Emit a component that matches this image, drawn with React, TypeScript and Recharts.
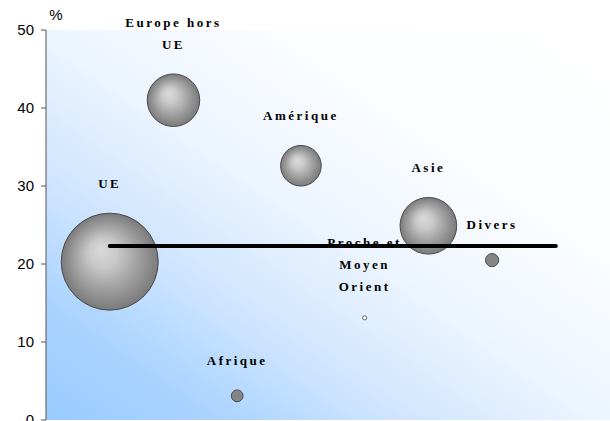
import React from "react";
import { ScatterChart, Scatter, XAxis, YAxis, ZAxis, CartesianGrid } from "recharts";

// zones, position on the x axis (rank), y value (%), bubble weight
const ZONES = ["UE", "Europe hors UE", "Afrique", "Amérique", "Proche et Moyen Orient", "Asie", "Divers"];
const ZONE_LINES = [["UE"], ["Europe hors", "UE"], ["Afrique"], ["Amérique"], ["Proche et", "Moyen", "Orient"], ["Asie"], ["Divers"]];
const RANKS = [1, 2, 3, 4, 5, 6, 7];
const PCT = [20.3, 41.0, 3.1, 32.6, 13.1, 24.9, 20.5];
const WEIGHTS = [54.2, 15.9, 0.8, 9.5, 0.1, 18.5, 1.0];

// average line
const AVG_X = [1, 8];
const AVG_Y = 22.3;

const Y_TICKS = [0, 10, 20, 30, 40, 50];

const bubbleData = ZONES.map((name, i) => ({
  name,
  lines: ZONE_LINES[i],
  x: RANKS[i],
  y: PCT[i],
  z: WEIGHTS[i],
}));

const avgData = AVG_X.map((x) => ({ x, y: AVG_Y, z: 0 }));

const MAX_R = 48.5;
const SERIF = "Liberation Serif, Times New Roman, serif";
const SANS = "Liberation Sans, Arial, sans-serif";

function Bubble(props: any) {
  const { cx, cy, payload } = props;
  const r = props.width ? props.width / 2 : Math.sqrt((props.size ?? 0) / Math.PI);
  let fill = "url(#bubbleGrad)";
  let stroke = "#4a4a4a";
  if (r < 3) {
    fill = "#ffffff";
    stroke = "#666";
  } else if (r < 10) {
    fill = "#858585";
  }
  const lines: string[] = payload.lines ?? [];
  const n = lines.length;
  return (
    <g>
      <circle cx={cx} cy={cy} r={r} fill={fill} stroke={stroke} strokeWidth={1} />
      {lines.map((t, i) => (
        <text
          key={t}
          x={cx}
          y={cy - r - 25 - (n - 1 - i) * 22}
          textAnchor="middle"
          style={{ fontFamily: SERIF, fontWeight: "bold", fontSize: 13, letterSpacing: 2.5 }}
          fill="#000"
        >
          {t}
        </text>
      ))}
    </g>
  );
}

export default function App() {
  return (
    <div style={{ position: "absolute", left: 0, top: 0 }}>
      <ScatterChart width={610} height={421} margin={{ top: 30, right: 0, bottom: 1, left: 0 }}>
        <defs>
          <linearGradient id="bgGrad" x1="0" y1="1" x2="1" y2="0">
            <stop offset="0" stopColor="#99ccff" />
            <stop offset="0.15" stopColor="#a9d3ff" />
            <stop offset="0.3" stopColor="#cde4ff" />
            <stop offset="0.5" stopColor="#edf5ff" />
            <stop offset="0.7" stopColor="#fbfdff" />
            <stop offset="1" stopColor="#ffffff" />
          </linearGradient>
          <radialGradient id="bubbleGrad" cx="0.5" cy="0.5" r="0.5" fx="0.4" fy="0.37">
            <stop offset="0" stopColor="#dadada" />
            <stop offset="0.3" stopColor="#c8c8c8" />
            <stop offset="0.65" stopColor="#a0a0a0" />
            <stop offset="1" stopColor="#7a7a7a" />
          </radialGradient>
        </defs>
        <CartesianGrid horizontal={false} vertical={false} fill="url(#bgGrad)" stroke="none" />
        <XAxis
          type="number"
          dataKey="x"
          domain={[0, 8.85]}
          height={0}
          tick={false}
          tickLine={false}
          axisLine={{ stroke: "#555" }}
        />
        <YAxis
          type="number"
          dataKey="y"
          domain={[0, 50]}
          ticks={Y_TICKS}
          interval={0}
          width={46}
          tickSize={5}
          tickMargin={7}
          axisLine={{ stroke: "#555" }}
          tickLine={{ stroke: "#555" }}
          tick={{ fontSize: 15, fill: "#000", fontFamily: SANS }}
          label={{
            value: "%",
            position: "top",
            offset: 10,
            dx: 33,
            style: { fontSize: 15, fill: "#000", fontFamily: SANS },
          }}
        />
        <ZAxis type="number" dataKey="z" domain={[0, 54.2]} range={[0, Math.PI * MAX_R * MAX_R]} />
        <Scatter data={bubbleData} shape={<Bubble />} isAnimationActive={false} />
        <Scatter
          data={avgData}
          line={{ stroke: "#000", strokeWidth: 4, strokeLinecap: "round" }}
          shape={() => <g />}
          isAnimationActive={false}
        />
      </ScatterChart>
    </div>
  );
}
